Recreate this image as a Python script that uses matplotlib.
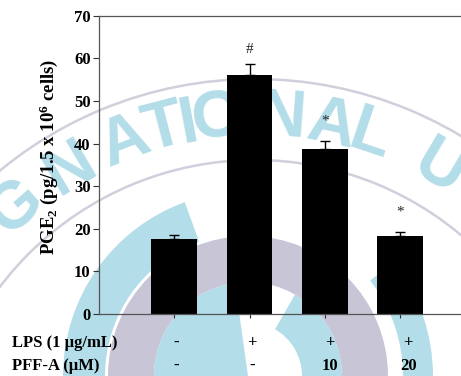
import numpy as np
import matplotlib
matplotlib.use("Agg")
import matplotlib.pyplot as plt
import matplotlib.transforms as mtrans
from matplotlib.patches import Wedge, Arc

# ---- data ----
groups = ["ctrl", "LPS", "LPS+PFF10", "LPS+PFF20"]
pge2 = [17.6, 56.2, 38.8, 18.3]
pge2_err = [0.9, 2.4, 1.9, 0.9]
marks = ["", "#", "*", "*"]
lps_labels = ["-", "+", "+", "+"]
pff_labels = ["-", "-", "10", "20"]
yticks = [0, 10, 20, 30, 40, 50, 60, 70]

plt.rcParams['font.family'] = ['Liberation Serif', 'DejaVu Serif']
plt.rcParams['mathtext.fontset'] = 'custom'
plt.rcParams['mathtext.rm'] = 'Liberation Serif:bold'
plt.rcParams['mathtext.it'] = 'Liberation Serif:bold'
plt.rcParams['mathtext.bf'] = 'Liberation Serif:bold'

W, H = 461, 376
fig = plt.figure(figsize=(W / 100, H / 100), dpi=100)

# ---- faint background watermark (decorative) ----
bg = fig.add_axes([0, 0, 1, 1], zorder=0)
bg.set_xlim(0, W)
bg.set_ylim(H, 0)
bg.axis("off")
blue = "#b3dde9"
gray = "#c8c6d6"
arcgray = "#d0cfdc"
# emblem at the bottom (y axis inverted: 270 deg points up)
ex, ey = 248, 376
bg.add_patch(Wedge((ex, ey), 185, 180, 250, width=42, facecolor=blue, edgecolor="none"))
bg.add_patch(Wedge((ex, ey), 185, 322, 360, width=30, facecolor=blue, edgecolor="none"))
bg.add_patch(Wedge((ex, ey), 140, 180, 360, width=46, facecolor=gray, edgecolor="none"))
bg.add_patch(Wedge((ex, ey), 94, 180, 262, width=94, facecolor=blue, edgecolor="none"))
bg.add_patch(Wedge((ex, ey), 94, 300, 360, width=40, facecolor=blue, edgecolor="none"))
# thin arcs of the seal
cxy = (255, 480)
bg.add_patch(Arc(cxy, 802, 802, theta1=0, theta2=360, color=arcgray, lw=1.8))
bg.add_patch(Arc(cxy, 640, 640, theta1=0, theta2=360, color=arcgray, lw=1.8))
# curved lettering
letters = ["G", "N", "A", "T", "I", "O", "N", "A", "L", "U"]
xs = [16, 70, 125, 164, 188, 217, 282, 331, 370, 440]
R0 = 362
for ch, x in zip(letters, xs):
    dx = x - cxy[0]
    y = cxy[1] - np.sqrt(R0 ** 2 - dx ** 2)
    ang = -np.degrees(np.arcsin(dx / R0))
    bg.text(x, y, ch, fontsize=48, fontweight="bold", family="Liberation Sans",
            color=blue, ha="center", va="center", rotation=ang,
            rotation_mode="anchor")

# ---- main chart ----
left, right = 99 / W, 1.0
bottom, top = 1 - 314 / H, 1 - 15.7 / H
ax = fig.add_axes([left, bottom, right - left, top - bottom], zorder=1)
ax.patch.set_alpha(0)

x = np.arange(len(groups))
ax.bar(x, pge2, width=0.61, color="black", zorder=2)
ax.errorbar(x, pge2, yerr=[np.zeros(len(pge2)), pge2_err], fmt="none",
            ecolor="black", elinewidth=1.0, capsize=3.5, capthick=1.0, zorder=3)

mark_y = [0, 62.0, 45.2, 24.0]
for xi, m, my in zip(x, marks, mark_y):
    if m:
        ax.text(xi, my, m, ha="center", va="center", fontsize=11, color="#222222")

ax.set_xlim(-1.0, 3.81)
ax.set_ylim(0, 70)
ax.set_yticks(yticks)
ax.set_yticklabels([str(t) for t in yticks], fontweight="bold", fontsize=12)
ax.set_xticks(x)
ax.set_xticklabels([])
ax.tick_params(axis="y", direction="out", length=4, width=0.8, pad=2, colors="#333333",
               labelcolor="black")
ax.tick_params(axis="x", direction="out", length=3, width=0.8, colors="#333333")
for s in ["left", "bottom", "top"]:
    ax.spines[s].set_color("#555555")
    ax.spines[s].set_linewidth(0.9)
ax.spines["right"].set_visible(False)

fig.text(49 / W, 1 - 157 / H, r"PGE$_2$ (pg/1.5 x 10$^6$ cells)", fontweight="bold",
         fontsize=13.5, rotation=90, ha="center", va="center")

# condition rows
row1_y = 1 - 342.7 / H
row2_y = 1 - 366 / H
fig.text(12 / W, row1_y, "LPS (1 μg/mL)", fontweight="bold", fontsize=12,
         ha="left", va="center")
fig.text(12 / W, row2_y, "PFF-A (μM)", fontweight="bold", fontsize=12,
         ha="left", va="center")
tr = mtrans.blended_transform_factory(ax.transData, fig.transFigure)
shift = [0.02, 1.03, 2.07, 3.11]
for sx, a, b in zip(shift, lps_labels, pff_labels):
    ax.text(sx, row1_y, a, transform=tr, ha="center", va="center",
            fontweight="bold", fontsize=12)
    ax.text(sx, row2_y, b, transform=tr, ha="center", va="center",
            fontweight="bold", fontsize=12)

fig.savefig("out.png", dpi=100)
